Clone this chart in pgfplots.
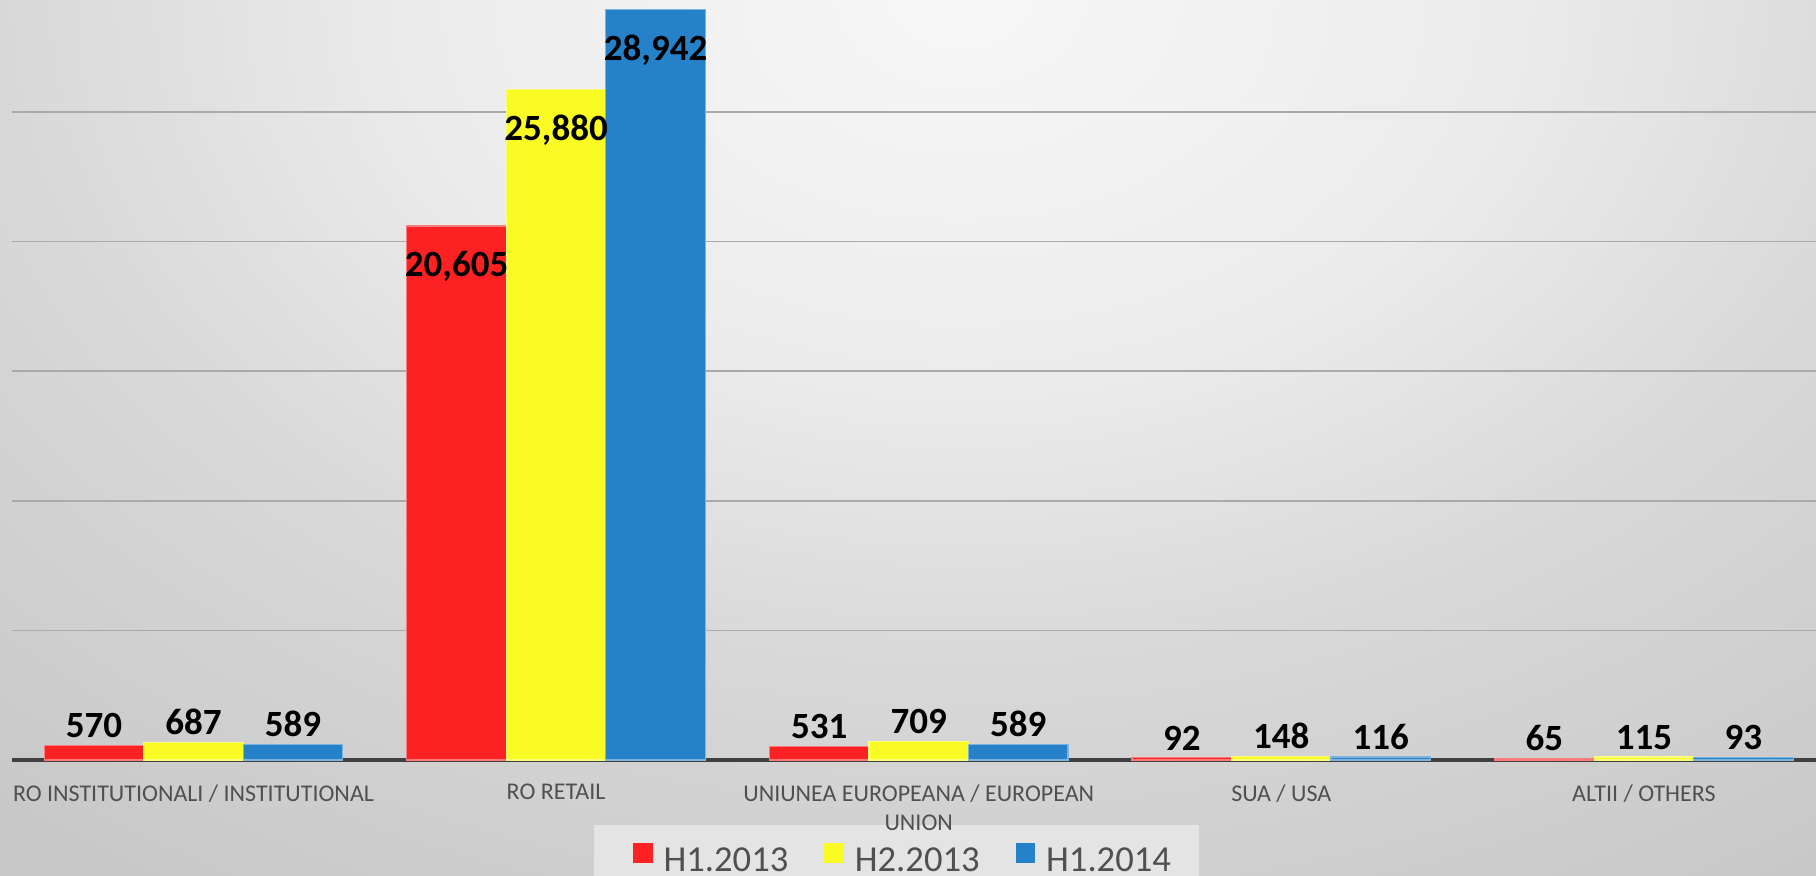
\documentclass[border=0pt]{standalone}
\usepackage{fontspec}
\setmainfont{Carlito}
\usepackage{pgfplots}
\pgfplotsset{compat=1.18}

\definecolor{barred}{RGB}{252,34,36}
\definecolor{baryel}{RGB}{250,250,36}
\definecolor{barblue}{RGB}{37,130,200}
\definecolor{bg0}{RGB}{247,247,247}
\definecolor{bg1}{RGB}{236,236,236}
\definecolor{bg2}{RGB}{216,216,216}
\definecolor{bg3}{RGB}{200,200,200}
\definecolor{legbg}{RGB}{228,228,228}
\definecolor{labgray}{RGB}{80,80,80}
\definecolor{axisgray}{RGB}{64,64,64}
\definecolor{gridgray}{RGB}{170,170,170}

% background glow, brightest at the top centre
\pgfdeclareradialshading{bgshade}{\pgfpoint{0bp}{0bp}}{%
  color(0bp)=(bg0); color(9bp)=(bg1); color(16bp)=(bg2); color(25bp)=(bg3); color(50bp)=(bg3)}

\begin{document}
\begin{tikzpicture}
\useasboundingbox (0,0) rectangle (908pt,437.5pt);
\begin{scope}
\clip (-3pt,-3pt) rectangle (911pt,440pt);
\fill[bg3] (-3pt,-3pt) rectangle (911pt,440pt);
\shade[shading=bgshade] (480pt,437.5pt) ellipse (750pt and 525pt);
% legend panel
\fill[legbg] (297pt,-5pt) rectangle (599.5pt,25pt);
\end{scope}
\begin{scope}
\clip (0,0) rectangle (908pt,437.5pt);
\begin{axis}[
    at={(6.1pt,57.5pt)}, anchor=south west,
    scale only axis,
    width=906.5pt, height=380pt,
    xmin=-0.5, xmax=4.5,
    ymin=0, ymax=29320,
    ybar, bar width=49.75pt,
    axis x line*=bottom, axis y line*=left,
    y axis line style={draw=none},
    x axis line style={-, line width=1.75pt, color=axisgray},
    major tick length=0pt,
    ytick={5000,10000,15000,20000,25000},
    yticklabels={},
    ymajorgrids,
    grid style={gridgray, line width=0.9pt},
    xtick={0,1,2,3,4},
    xticklabels={RO INSTITUTIONALI / INSTITUTIONAL, RO RETAIL,
        UNIUNEA EUROPEANA / EUROPEAN\\UNION, SUA / USA, ALTII / OTHERS},
    xticklabel style={font=\fontsize{12}{14.5}\selectfont, text=labgray,
        align=center, anchor=north, inner sep=0pt, yshift=-12pt},
    nodes near coords,
    /pgf/number format/fixed,
    /pgf/number format/1000 sep={,},
    /pgf/number format/assume math mode=true,
    every node near coord/.append style={font=\fontsize{18.5}{20}\selectfont\bfseries,
        text=black, inner sep=0pt},
    legend columns=3,
    legend image code/.code={\fill[#1, draw=none] (0pt,-1pt) rectangle (9.75pt,8.75pt);},
    legend style={at={(0.4919,-0.0855)}, anchor=north, draw=none, fill=none,
        font=\fontsize{18.3}{20}\selectfont, text=labgray,
        inner xsep=0pt, inner ysep=9pt,
        /tikz/every odd column/.append style={column sep=3.5pt},
        /tikz/every even column/.append style={column sep=16pt}},
]
% small values, labels above the bars
\addplot[fill=barred, draw=barred!60!white, line width=0.6pt, bar shift=-49.75pt,
    every node near coord/.append style={anchor=south, yshift=3.5pt}]
    coordinates {(0,570) (2,531) (3,92) (4,65)};
\addplot[fill=baryel, draw=baryel!60!white, line width=0.6pt, bar shift=0pt,
    every node near coord/.append style={anchor=south, yshift=3.5pt}]
    coordinates {(0,687) (2,709) (3,148) (4,115)};
\addplot[fill=barblue, draw=barblue!60!white, line width=0.6pt, bar shift=49.75pt,
    every node near coord/.append style={anchor=south, yshift=3.5pt}]
    coordinates {(0,589) (2,589) (3,116) (4,93)};
% RO retail, labels inside the top of the bars
\addplot[forget plot, fill=barred, draw=barred!60!white, line width=0.6pt, bar shift=-49.75pt,
    every node near coord/.append style={anchor=north, yshift=-12.5pt}]
    coordinates {(1,20605)};
\addplot[forget plot, fill=baryel, draw=baryel!60!white, line width=0.6pt, bar shift=0pt,
    every node near coord/.append style={anchor=north, yshift=-12.5pt}]
    coordinates {(1,25880)};
\addplot[forget plot, fill=barblue, draw=barblue!60!white, line width=0.6pt, bar shift=49.75pt,
    every node near coord/.append style={anchor=north, yshift=-12.5pt}]
    coordinates {(1,28942)};
\legend{H1.2013, H2.2013, H1.2014}
\end{axis}
\end{scope}
\end{tikzpicture}
\end{document}
